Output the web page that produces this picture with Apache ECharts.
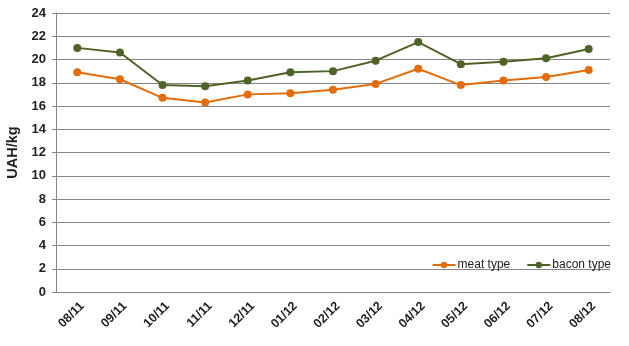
<!DOCTYPE html>
<html>
<head>
<meta charset="utf-8">
<script src="https://cdn.jsdelivr.net/npm/echarts@6/dist/echarts.min.js"></script>
<style>
  html, body { margin: 0; padding: 0; background: #fff; }
  #chart { width: 629px; height: 346px; }
</style>
</head>
<body>
<div id="chart"></div>
<script>
// Monthly pig prices, UAH per kg
const months = ['08/11', '09/11', '10/11', '11/11', '12/11', '01/12', '02/12', '03/12', '04/12', '05/12', '06/12', '07/12', '08/12'];
const meatType = [18.9, 18.3, 16.7, 16.3, 17.0, 17.1, 17.4, 17.9, 19.2, 17.8, 18.2, 18.5, 19.1];
const baconType = [21.0, 20.6, 17.8, 17.7, 18.2, 18.9, 19.0, 19.9, 21.5, 19.6, 19.8, 20.1, 20.9];

const FONT = '"Liberation Sans", "DejaVu Sans", sans-serif';
const ORANGE = '#E46C0A';
const GREEN = '#4F6228';

const chart = echarts.init(document.getElementById('chart'), null, { renderer: 'canvas' });
chart.setOption({
  animation: false,
  backgroundColor: '#fff',
  grid: { left: 56, right: 19, top: 13, bottom: 54, containLabel: false, outerBoundsMode: 'none' },
  legend: {
    right: 13,
    top: 254,
    itemWidth: 23,
    itemHeight: 8,
    itemGap: 16,
    textStyle: { fontFamily: FONT, fontSize: 12, color: '#222', padding: [0, 0, 0, -3] },
    data: ['meat type', 'bacon type']
  },
  xAxis: {
    type: 'category',
    data: months,
    boundaryGap: true,
    axisLine: { lineStyle: { color: '#868686', width: 1 } },
    axisTick: { show: false },
    axisLabel: {
      rotate: 45,
      margin: 17,
      padding: [0, -7, 0, 0],
      interval: 0,
      fontFamily: FONT,
      fontSize: 12.5,
      fontWeight: 'bold',
      color: '#222'
    }
  },
  yAxis: {
    type: 'value',
    min: 0,
    max: 24,
    interval: 2,
    name: 'UAH/kg',
    nameLocation: 'middle',
    nameGap: 36,
    nameRotate: 90,
    nameTextStyle: { fontFamily: FONT, fontSize: 14.5, fontWeight: 'bold', color: '#222' },
    axisLine: { show: true, lineStyle: { color: '#868686', width: 1 } },
    axisTick: { show: true, length: 4, lineStyle: { color: '#868686' } },
    axisLabel: { margin: 10, fontFamily: FONT, fontSize: 13, fontWeight: 'bold', color: '#222' },
    splitLine: { lineStyle: { color: '#868686', width: 1 } }
  },
  series: [
    {
      name: 'meat type',
      type: 'line',
      data: meatType,
      symbol: 'circle',
      symbolSize: 8,
      itemStyle: { color: ORANGE },
      lineStyle: { color: ORANGE, width: 2 }
    },
    {
      name: 'bacon type',
      type: 'line',
      data: baconType,
      symbol: 'circle',
      symbolSize: 8,
      itemStyle: { color: GREEN },
      lineStyle: { color: GREEN, width: 2 }
    }
  ]
});
</script>
</body>
</html>
